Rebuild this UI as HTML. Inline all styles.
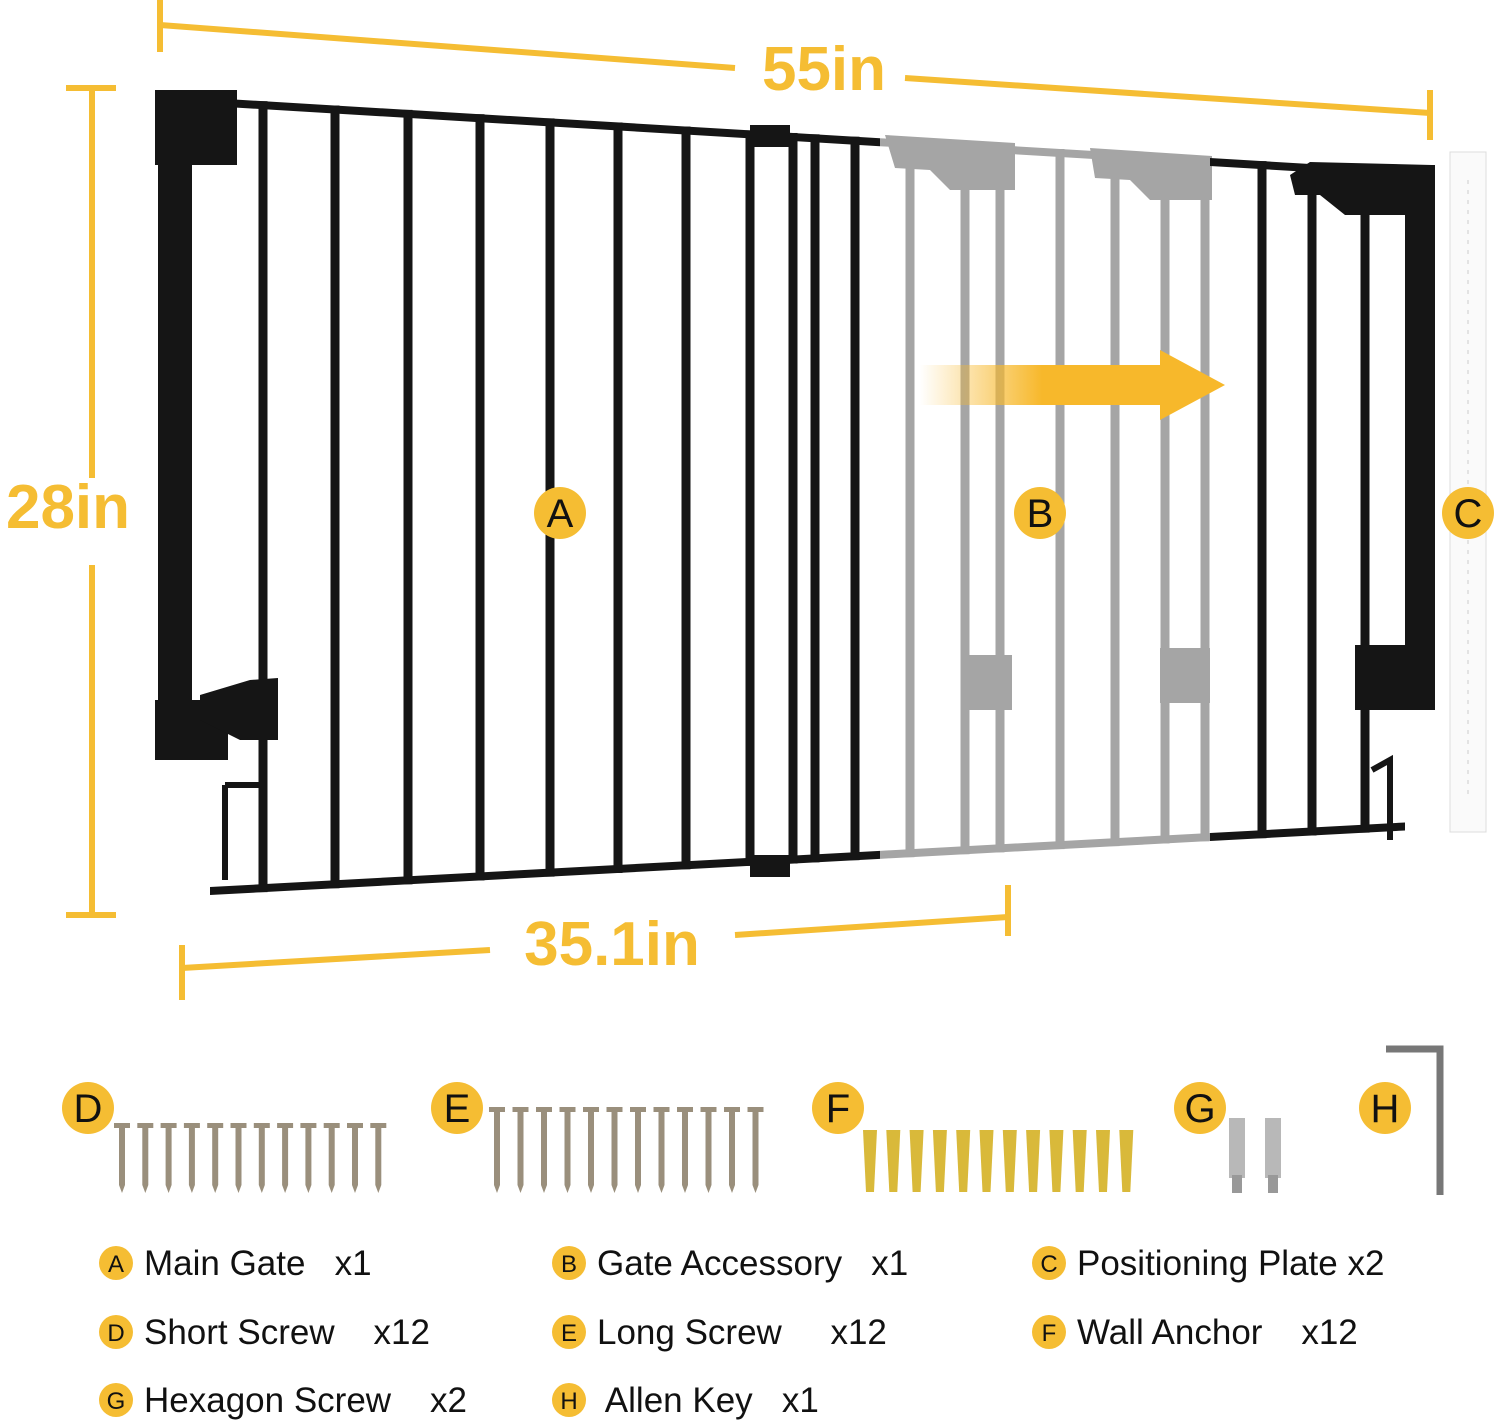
<!DOCTYPE html>
<html><head><meta charset="utf-8"><style>
html,body{margin:0;padding:0;background:#fff}
svg{display:block}
text{font-family:"Liberation Sans",sans-serif}
</style></head><body>
<svg id="s" width="1500" height="1424" viewBox="0 0 1500 1424" xmlns="http://www.w3.org/2000/svg">
<defs>
<linearGradient id="ag" x1="0" x2="1"><stop offset="0" stop-color="#f7b82b" stop-opacity="0"/><stop offset="0.4" stop-color="#f7b82b"/><stop offset="1" stop-color="#f7b82b"/></linearGradient>
</defs>
<g stroke="#f5bd33" stroke-width="6" fill="none">
<line x1="160" y1="0" x2="160" y2="52"/>
<line x1="160" y1="25" x2="735" y2="68"/>
<line x1="905" y1="78" x2="1430" y2="113"/>
<line x1="1430" y1="90" x2="1430" y2="140"/>
<line x1="66" y1="88" x2="116" y2="88"/>
<line x1="92" y1="88" x2="92" y2="478"/>
<line x1="92" y1="565" x2="92" y2="915"/>
<line x1="66" y1="915" x2="116" y2="915"/>
<line x1="182" y1="945" x2="182" y2="1000"/>
<line x1="182" y1="968" x2="490" y2="950"/>
<line x1="735" y1="935" x2="1008" y2="917"/>
<line x1="1008" y1="885" x2="1008" y2="936"/>
</g>
<g fill="#f5bd33" font-weight="bold" font-size="62">
<text x="824" y="90" text-anchor="middle">55in</text>
<text x="68" y="528" text-anchor="middle">28in</text>
<text x="612" y="965" text-anchor="middle">35.1in</text>
</g>
<rect x="1450" y="152" width="36" height="680" fill="#fafafa" stroke="#ddd"/>
<line x1="1468" y1="180" x2="1468" y2="800" stroke="#ccc" stroke-dasharray="4 6"/>
<g id="gray" fill="#a5a5a5"></g>
<g id="blk" fill="#151515"></g>
<polygon points="920,365 1160,365 1160,350 1225,385 1160,420 1160,405 920,405" fill="url(#ag)"/>
<g id="lab"></g>
</svg>
<script>
(function(){
const NS="http://www.w3.org/2000/svg";
function el(p,t,a,txt){const e=document.createElementNS(NS,t);for(const k in a)e.setAttribute(k,a[k]);if(txt)e.textContent=txt;document.getElementById(p).appendChild(e);return e;}
const tp=x=>95+(x-160)*0.06, bt=x=>895-(x-210)*0.054;
el('blk','polygon',{points:`200,${tp(200)} 880,${tp(880)} 880,${tp(880)+8} 200,${tp(200)+8}`});
el('blk','polygon',{points:`1210,${tp(1210)} 1405,${tp(1405)} 1405,${tp(1405)+8} 1210,${tp(1210)+8}`});
el('blk','polygon',{points:`210,${bt(210)} 880,${bt(880)} 880,${bt(880)-8} 210,${bt(210)-8}`});
el('blk','polygon',{points:`1210,${bt(1210)} 1405,${bt(1405)} 1405,${bt(1405)-8} 1210,${bt(1210)-8}`});
el('gray','polygon',{points:`880,${tp(880)} 1210,${tp(1210)} 1210,${tp(1210)+8} 880,${tp(880)+8}`});
el('gray','polygon',{points:`880,${bt(880)} 1210,${bt(1210)} 1210,${bt(1210)-8} 880,${bt(880)-8}`});
[263,335,408,480,550,618,686,750,793,815,855,1262,1312,1365].forEach(x=>el('blk','rect',{x:x-4.5,y:tp(x),width:9,height:bt(x)-tp(x)}));
[910,965,1000,1060,1115,1165,1205].forEach(x=>el('gray','rect',{x:x-4.5,y:tp(x),width:9,height:bt(x)-tp(x)}));
el('gray','path',{d:'M885,135 L1015,143 L1015,190 L950,190 L930,170 L895,168 Z'});
el('gray','path',{d:'M1090,148 L1212,156 L1212,200 L1150,200 L1130,180 L1095,178 Z'});
el('gray','rect',{x:962,y:655,width:50,height:55});el('gray','rect',{x:1160,y:648,width:50,height:55});
el('blk','rect',{x:158,y:90,width:34,height:670});
el('blk','rect',{x:155,y:90,width:82,height:75});
el('blk','rect',{x:155,y:700,width:73,height:60});
el('blk','path',{d:'M200,695 L250,680 L278,678 L278,740 L240,740 L200,720 Z'});
el('blk','path',{d:'M225,785 L225,880 M225,785 L262,785',stroke:'#151515','stroke-width':6,fill:'none'});
el('blk','rect',{x:750,y:125,width:40,height:22});el('blk','rect',{x:750,y:855,width:40,height:22});
el('blk','rect',{x:1405,y:165,width:30,height:530});
el('blk','path',{d:'M1290,175 L1310,162 L1432,165 L1432,215 L1345,215 L1320,195 L1295,195 Z'});
el('blk','rect',{x:1355,y:645,width:80,height:65});
el('blk','path',{d:'M1372,770 L1390,760 L1390,840',stroke:'#151515','stroke-width':6,fill:'none'});
[[560,513,'A'],[1040,513,'B'],[1468,513,'C'],[88,1108,'D'],[457,1108,'E'],[838,1108,'F'],[1200,1108,'G'],[1385,1108,'H']].forEach(([x,y,t])=>{el('lab','circle',{cx:x,cy:y,r:26,fill:'#f5bd33'});el('lab','text',{x:x,y:y+14,'text-anchor':'middle','font-size':40,fill:'#111'},t);});
function screw(x,y1,y2,c){el('lab','rect',{x:x-3,y:y1,width:6,height:y2-y1-8,fill:c});el('lab','rect',{x:x-8,y:y1-4,width:16,height:5,fill:c});el('lab','polygon',{points:`${x-3},${y2-8} ${x+3},${y2-8} ${x},${y2}`,fill:c});}
for(let i=0;i<12;i++)screw(122+i*23.3,1127,1193,'#9a8f7c');
for(let i=0;i<12;i++)screw(497+i*23.5,1111,1193,'#9a8f7c');
for(let i=0;i<12;i++){const x=870+i*23.3;el('lab','polygon',{points:`${x-7},1130 ${x+7},1130 ${x+4},1192 ${x-4},1192`,fill:'#d9b93a'});}
[1237,1273].forEach(x=>{el('lab','rect',{x:x-8,y:1118,width:16,height:60,fill:'#b8b8b8'});el('lab','rect',{x:x-5,y:1175,width:10,height:18,fill:'#999'});});
el('lab','path',{d:'M1386,1049 L1440,1049 L1440,1195',stroke:'#777','stroke-width':7,fill:'none'});
[[116,1263,'A','Main Gate   x1'],[569,1263,'B','Gate Accessory   x1'],[1049,1263,'C','Positioning Plate x2'],
 [116,1332,'D','Short Screw    x12'],[569,1332,'E','Long Screw     x12'],[1049,1332,'F','Wall Anchor    x12'],
 [116,1400,'G','Hexagon Screw    x2'],[569,1400,'H',' Allen Key   x1']].forEach(([x,y,l,t])=>{
 el('lab','circle',{cx:x,cy:y,r:17,fill:'#f5bd33'});el('lab','text',{x:x,y:y+9,'text-anchor':'middle','font-size':24,fill:'#111'},l);
 const tt=el('lab','text',{x:x+28,y:y+12,'font-size':35,fill:'#111'},t);tt.style.whiteSpace='pre';});
})();
</script>
</body></html>
